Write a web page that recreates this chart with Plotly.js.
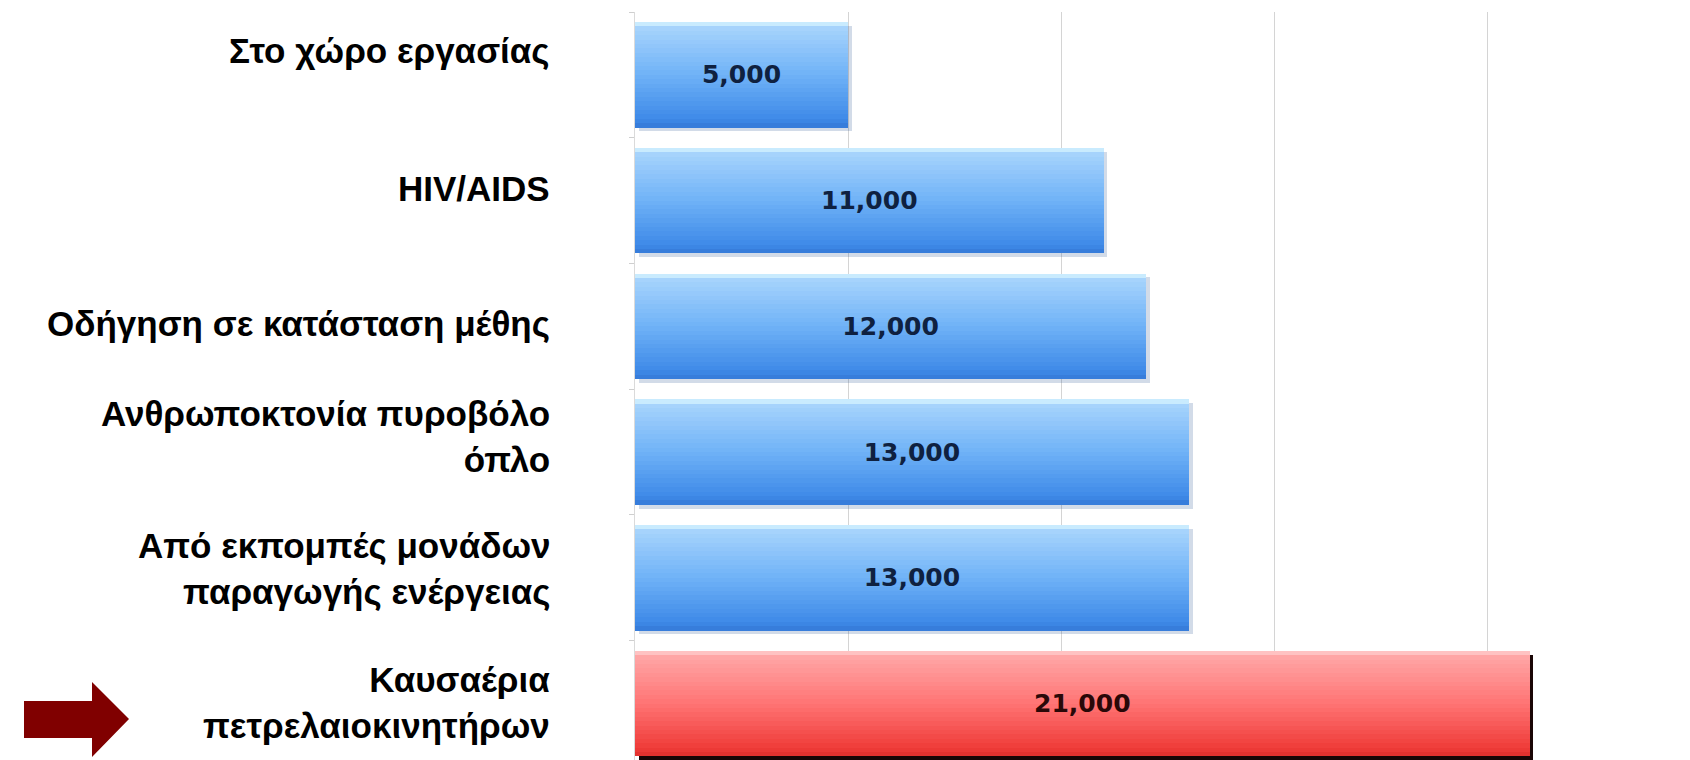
<!DOCTYPE html>
<html>
<head>
<meta charset="utf-8">
<script src="https://cdn.plot.ly/plotly-3.0.1.min.js"></script>
<style>html,body{margin:0;padding:0;background:#fff;}#chart{width:1690px;height:760px;}</style>
</head>
<body>
<div id="chart"></div>
<script>
// ---- data ----
const categories = [
  "Στο χώρο εργασίας",
  "HIV/AIDS",
  "Οδήγηση σε κατάσταση μέθης",
  "Ανθρωποκτονία πυροβόλο<br>όπλο",
  "Από εκπομπές μονάδων<br>παραγωγής ενέργειας",
  "Καυσαέρια<br>πετρελαιοκινητήρων"
];
const deaths = [5000, 11000, 12000, 13000, 13000, 21000];
const highlightCategory = "Καυσαέρια<br>πετρελαιοκινητήρων";

// ---- styling ----
const W = 1690, H = 760;
const M = {l: 635, r: 0, t: 12, b: 0};
const plotW = W - M.l - M.r, plotH = H - M.t - M.b;
const pxPer1000 = 42.6;
const xMax = plotW / pxPer1000 * 1000;
const barW = 0.84;
const isHi = categories.map(c => c === highlightCategory);

function hex2rgb(h){h=h.replace('#','');return [0,2,4].map(i=>parseInt(h.substr(i,2),16));}
function grad(stops, t){
  for(let i=0;i<stops.length-1;i++){
    const [t0,c0]=stops[i],[t1,c1]=stops[i+1];
    if(t>=t0 && t<=t1){
      const f=(t-t0)/(t1-t0||1);const a=hex2rgb(c0),b=hex2rgb(c1);
      return 'rgb('+a.map((v,k)=>Math.round(v+(b[k]-v)*f)).join(',')+')';
    }
  }
  return stops[stops.length-1][1];
}
const blueStops = [[0,'#dcf8ff'],[0.06,'#a6d3fc'],[0.5,'#6fb2f7'],[0.92,'#3e8ae8'],[1,'#3479d6']];
const redStops  = [[0,'#ffd2d2'],[0.06,'#ffa5a5'],[0.5,'#ff7474'],[0.92,'#ef3c39'],[1,'#e02f2c']];

const traces = [];
// shadow
traces.push({
  type:'bar', orientation:'h', y:categories, x:deaths, base:90,
  width:barW, offset:-barW/2+0.03,
  marker:{color:isHi.map(h=>h?'#1a0606':'rgba(50,90,150,0.22)'), line:{width:0}},
  hoverinfo:'skip', showlegend:false
});
// gradient bands
const N = 24, bw = barW/N;
for(let k=0;k<N;k++){
  const t=(k+0.5)/N;
  traces.push({
    type:'bar', orientation:'h', y:categories, x:deaths,
    width: k<N-1 ? bw*1.2 : bw, offset:-barW/2 + k*bw,
    marker:{color:isHi.map(h=>grad(h?redStops:blueStops,t)), line:{width:0}},
    hoverinfo:'skip', showlegend:false
  });
}
// value labels
traces.push({
  type:'bar', orientation:'h', y:categories, x:deaths,
  width:barW, offset:-barW/2,
  marker:{color:'rgba(0,0,0,0)', line:{width:0}},
  texttemplate:'%{x:,.0f}', textposition:'inside', insidetextanchor:'middle',
  constraintext:'none', textangle:0,
  textfont:{family:'DejaVu Sans, Verdana, sans-serif', size:25, weight:700,
            color:isHi.map(h=>h?'#2a0808':'#0f2140')},
  hoverinfo:'skip', showlegend:false
});

const labelShift = [24, 12, 3, 16, 9, 1];
const annotations = categories.map((c,i)=>({
  text:c, x:0, xref:'paper', xanchor:'right', xshift:-83,
  y:c, yref:'y', yanchor:'middle', yshift:labelShift[i],
  showarrow:false, align:'right',
  font:{family:'Liberation Sans, Arial, sans-serif', size:35, weight:700, color:'#000'}
}));

// pointer arrow (pixel geometry -> paper coords)
const px = p => (p - M.l)/plotW, py = p => (H - M.b - p)/plotH;
const arrowPts = [[24,701],[92,701],[92,682],[129,719],[92,757],[92,738],[24,738]];
const arrowPath = 'M' + arrowPts.map(p=>px(p[0]).toFixed(5)+','+py(p[1]).toFixed(5)).join(' L') + ' Z';

const layout = {
  width:W, height:H, margin:M,
  paper_bgcolor:'#fff', plot_bgcolor:'#fff',
  barmode:'overlay', bargap:0,
  showlegend:false,
  xaxis:{range:[0,xMax], tick0:0, dtick:5000, showgrid:true, gridcolor:'#d4d4d4', gridwidth:1,
         showticklabels:false, zeroline:false, showline:false, ticks:''},
  yaxis:{type:'category', categoryorder:'array', categoryarray:categories,
         range:[5.449,-0.5], showticklabels:false, ticks:'outside', tickson:'boundaries',
         ticklen:5, tickcolor:'#cfcfcf', showline:true, linecolor:'#dadada', linewidth:1,
         showgrid:false, zeroline:false},
  annotations:annotations,
  shapes:[{type:'path', xref:'paper', yref:'paper', path:arrowPath,
           fillcolor:'#800000', line:{width:0}, layer:'above'}]
};
Plotly.newPlot('chart', traces, layout, {staticPlot:true, displayModeBar:false});
</script>
</body>
</html>
